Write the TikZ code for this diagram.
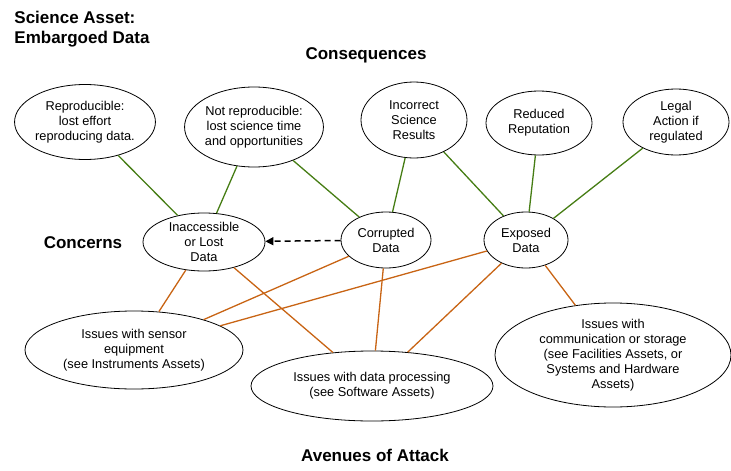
\documentclass[tikz,border=0pt]{standalone}
\usepackage{fontspec}
\setmainfont{Liberation Sans}
\usetikzlibrary{shapes.geometric,arrows.meta}
\begin{document}
\begin{tikzpicture}[x=1pt,y=-1pt,
 el/.style={draw,ellipse,line width=0.8pt,align=center,font=\fontsize{12.8}{15}\selectfont,inner sep=0pt},
 hd/.style={font=\bfseries\fontsize{17}{20}\selectfont,align=left},
 gl/.style={draw={rgb,255:red,70;green,125;blue,20},line width=1.3pt},
 ol/.style={draw={rgb,255:red,200;green,100;blue,20},line width=1.3pt}]
\useasboundingbox (0,0) rectangle (731,471);
\node[hd] (t) at (82,29) {Science Asset:\\Embargoed Data};
\node[hd] (cq) at (366,55) {Consequences};
\node[hd] (cc) at (83,243) {Concerns};
\node[hd] (av) at (375,455) {Avenues of Attack};
\node[el,minimum width=134,minimum height=75] (e1) at (85,122) {Reproducible:\\lost effort\\reproducing data.};
\node[el,minimum width=130,minimum height=80] (e2) at (254,127) {Not reproducible:\\lost science time\\and opportunities};
\node[el,minimum width=106,minimum height=76] (e3) at (414,120) {Incorrect\\Science\\Results};
\node[el,minimum width=106,minimum height=64] (e4) at (539,123) {Reduced\\Reputation};
\node[el,minimum width=106,minimum height=66] (e5) at (676,122) {Legal\\Action if\\regulated};
\node[el,minimum width=122,minimum height=58] (c1) at (204,242) {Inaccessible\\or Lost\\Data};
\node[el,minimum width=90,minimum height=56] (c2) at (386,240) {Corrupted\\Data};
\node[el,minimum width=84,minimum height=56] (c3) at (526,240) {Exposed\\Data};
\node[el,minimum width=218,minimum height=78] (a1) at (134,350) {Issues with sensor\\equipment\\(see Instruments Assets)};
\node[el,minimum width=242,minimum height=70] (a2) at (372,386) {Issues with data processing\\(see Software Assets)};
\node[el,minimum width=236,minimum height=104] (a3) at (613,355) {Issues with\\communication or storage\\(see Facilities Assets, or\\Systems and Hardware\\Assets)};
\draw[gl] (e1) -- (c1); \draw[gl] (e2) -- (c1); \draw[gl] (e2) -- (c2);
\draw[gl] (e3) -- (c2); \draw[gl] (e3) -- (c3); \draw[gl] (e4) -- (c3); \draw[gl] (e5) -- (c3);
\draw[ol] (c1) -- (a1); \draw[ol] (c1) -- (a2); \draw[ol] (c2) -- (a1); \draw[ol] (c2) -- (a2);
\draw[ol] (c3) -- (a1); \draw[ol] (c3) -- (a2); \draw[ol] (c3) -- (a3);
\draw[dash pattern=on 6pt off 4pt,line width=1.5pt,-{Triangle[length=8pt,width=8pt]}] (c2) -- (c1);
\end{tikzpicture}
\end{document}
